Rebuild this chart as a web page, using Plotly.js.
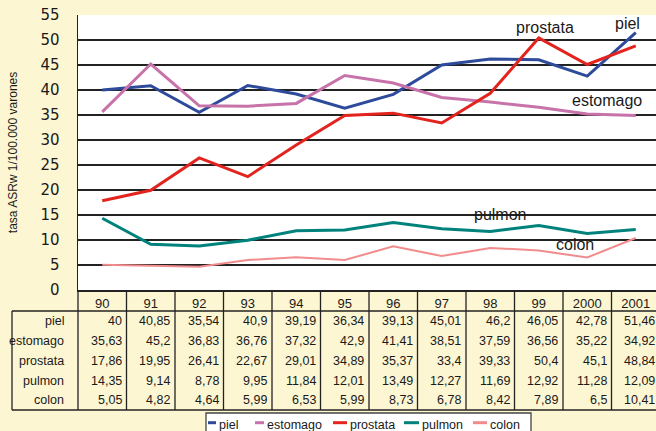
<!DOCTYPE html>
<html>
<head>
<meta charset="utf-8">
<script src="https://cdn.plot.ly/plotly-3.0.1.min.js"></script>
<style>
html,body{margin:0;padding:0;overflow:hidden;background:#FDF6D3;}
#chart{width:660px;height:431px;}
</style>
</head>
<body>
<div id="chart"></div>
<script>
const years = ['90','91','92','93','94','95','96','97','98','99','2000','2001'];
const seriesNames = ['piel','estomago','prostata','pulmon','colon'];
const piel     = [40, 40.85, 35.54, 40.9, 39.19, 36.34, 39.13, 45.01, 46.2, 46.05, 42.78, 51.46];
const estomago = [35.63, 45.2, 36.83, 36.76, 37.32, 42.9, 41.41, 38.51, 37.59, 36.56, 35.22, 34.92];
const prostata = [17.86, 19.95, 26.41, 22.67, 29.01, 34.89, 35.37, 33.4, 39.33, 50.4, 45.1, 48.84];
const pulmon   = [14.35, 9.14, 8.78, 9.95, 11.84, 12.01, 13.49, 12.27, 11.69, 12.92, 11.28, 12.09];
const colon    = [5.05, 4.82, 4.64, 5.99, 6.53, 5.99, 8.73, 6.78, 8.42, 7.89, 6.5, 10.41];
const seriesValues = [piel, estomago, prostata, pulmon, colon];
const seriesColors = ['#2E4B9B', '#C773AA', '#E3241E', '#00827C', '#F28C8C'];
const seriesWidths = [3, 3, 3, 3, 2];
const yTitle = 'tasa ASRw 1/100.000 varones';

// pixel helpers for decorations (plot area: x 78..660, y 15..290)
const L = 78, W = 582, B = 290, H = 275;
const px = p => (p - L) / W;
const py = p => (B - p) / H;

const traces = seriesNames.map((n, i) => ({
  type: 'scatter', mode: 'lines', name: n,
  x: years, y: seriesValues[i],
  line: {color: seriesColors[i], width: seriesWidths[i]},
  hoverinfo: 'skip'
}));

const lineCol = '#222';
const shapes = [];
const annotations = [];

// table vertical lines
for (let k = 0; k <= years.length; k++) {
  shapes.push({type: 'line', xref: 'paper', yref: 'paper', x0: k / years.length, x1: k / years.length,
    y0: py(290), y1: py(410), line: {color: lineCol, width: 1.3}});
}
shapes.push({type: 'line', xref: 'paper', yref: 'paper', x0: px(12), x1: px(12), y0: py(311), y1: py(410), line: {color: lineCol, width: 1.3}});
shapes.push({type: 'line', xref: 'paper', yref: 'paper', x0: px(12), x1: 1.01, y0: py(311), y1: py(311), line: {color: lineCol, width: 1.3}});
shapes.push({type: 'line', xref: 'paper', yref: 'paper', x0: px(12), x1: 1.01, y0: py(410), y1: py(410), line: {color: lineCol, width: 1.3}});

// table rows
const rowY = [321, 341, 360.5, 380.5, 400];
const tFont = {family: 'Liberation Sans, Arial, sans-serif', size: 12.5, color: '#1a1a1a'};
seriesNames.forEach((n, r) => {
  annotations.push({xref: 'paper', yref: 'paper', x: px(66), y: py(rowY[r]), text: n,
    xanchor: 'right', yanchor: 'middle', showarrow: false, font: tFont});
  seriesValues[r].forEach((v, i) => {
    annotations.push({xref: 'x', yref: 'paper', x: i + 0.5, y: py(rowY[r]), xshift: -3,
      text: String(v).replace('.', ','), xanchor: 'right', yanchor: 'middle', showarrow: false, font: tFont});
  });
});

// series labels on the plot
const labelPos = [[10.83, 53.4], [10.41, 38], [9.13, 52.6], [8.2, 15.2], [9.75, 9.2]];
seriesNames.forEach((n, i) => {
  annotations.push({xref: 'x', yref: 'y', x: labelPos[i][0], y: labelPos[i][1], text: n,
    showarrow: false, xanchor: 'center', yanchor: 'middle',
    font: {family: 'Liberation Sans, Arial, sans-serif', size: 16, color: '#1a1a1a'}});
});

// legend box (manual)
shapes.push({type: 'rect', xref: 'paper', yref: 'paper', x0: px(206), x1: px(531), y0: py(413), y1: py(440),
  line: {color: '#444', width: 1.3}, fillcolor: '#FFFFFF'});
const legX = [208, 255, 333, 404, 473];
const legLen = [8, 9, 14, 15, 14];
seriesNames.forEach((n, i) => {
  shapes.push({type: 'line', xref: 'paper', yref: 'paper', x0: px(legX[i]), x1: px(legX[i] + legLen[i]),
    y0: py(422.7), y1: py(422.7), line: {color: seriesColors[i], width: 3}});
  annotations.push({xref: 'paper', yref: 'paper', x: px(legX[i] + legLen[i] + 1), y: py(424.5), text: n,
    xanchor: 'left', yanchor: 'middle', showarrow: false, font: tFont});
});

const layout = {
  width: 660, height: 431,
  margin: {l: 78, r: 0, t: 15, b: 141, pad: 0},
  paper_bgcolor: '#FDF6D3', plot_bgcolor: '#FFFFFF',
  showlegend: false,
  xaxis: {type: 'category', range: [-0.5, 11.5], showgrid: false, zeroline: false,
    showline: true, linecolor: lineCol, linewidth: 1.5, ticks: '', ticklabelstandoff: 1,
    tickfont: {family: 'Liberation Sans, Arial, sans-serif', size: 13, color: '#1a1a1a'}, fixedrange: true},
  yaxis: {range: [0, 55], dtick: 5, tick0: 0, showgrid: true, gridcolor: lineCol, gridwidth: 1.5,
    zeroline: false, showline: true, linecolor: lineCol, linewidth: 1.5, ticks: '', ticklabelstandoff: 14,
    tickfont: {family: 'DejaVu Sans, sans-serif', size: 15, color: '#1a1a1a'},
    title: {text: yTitle, standoff: 20, font: {family: 'Liberation Sans, Arial, sans-serif', size: 12, color: '#1a1a1a'}},
    fixedrange: true},
  shapes: shapes,
  annotations: annotations
};

Plotly.newPlot('chart', traces, layout, {staticPlot: true, displayModeBar: false});
</script>
</body>
</html>
